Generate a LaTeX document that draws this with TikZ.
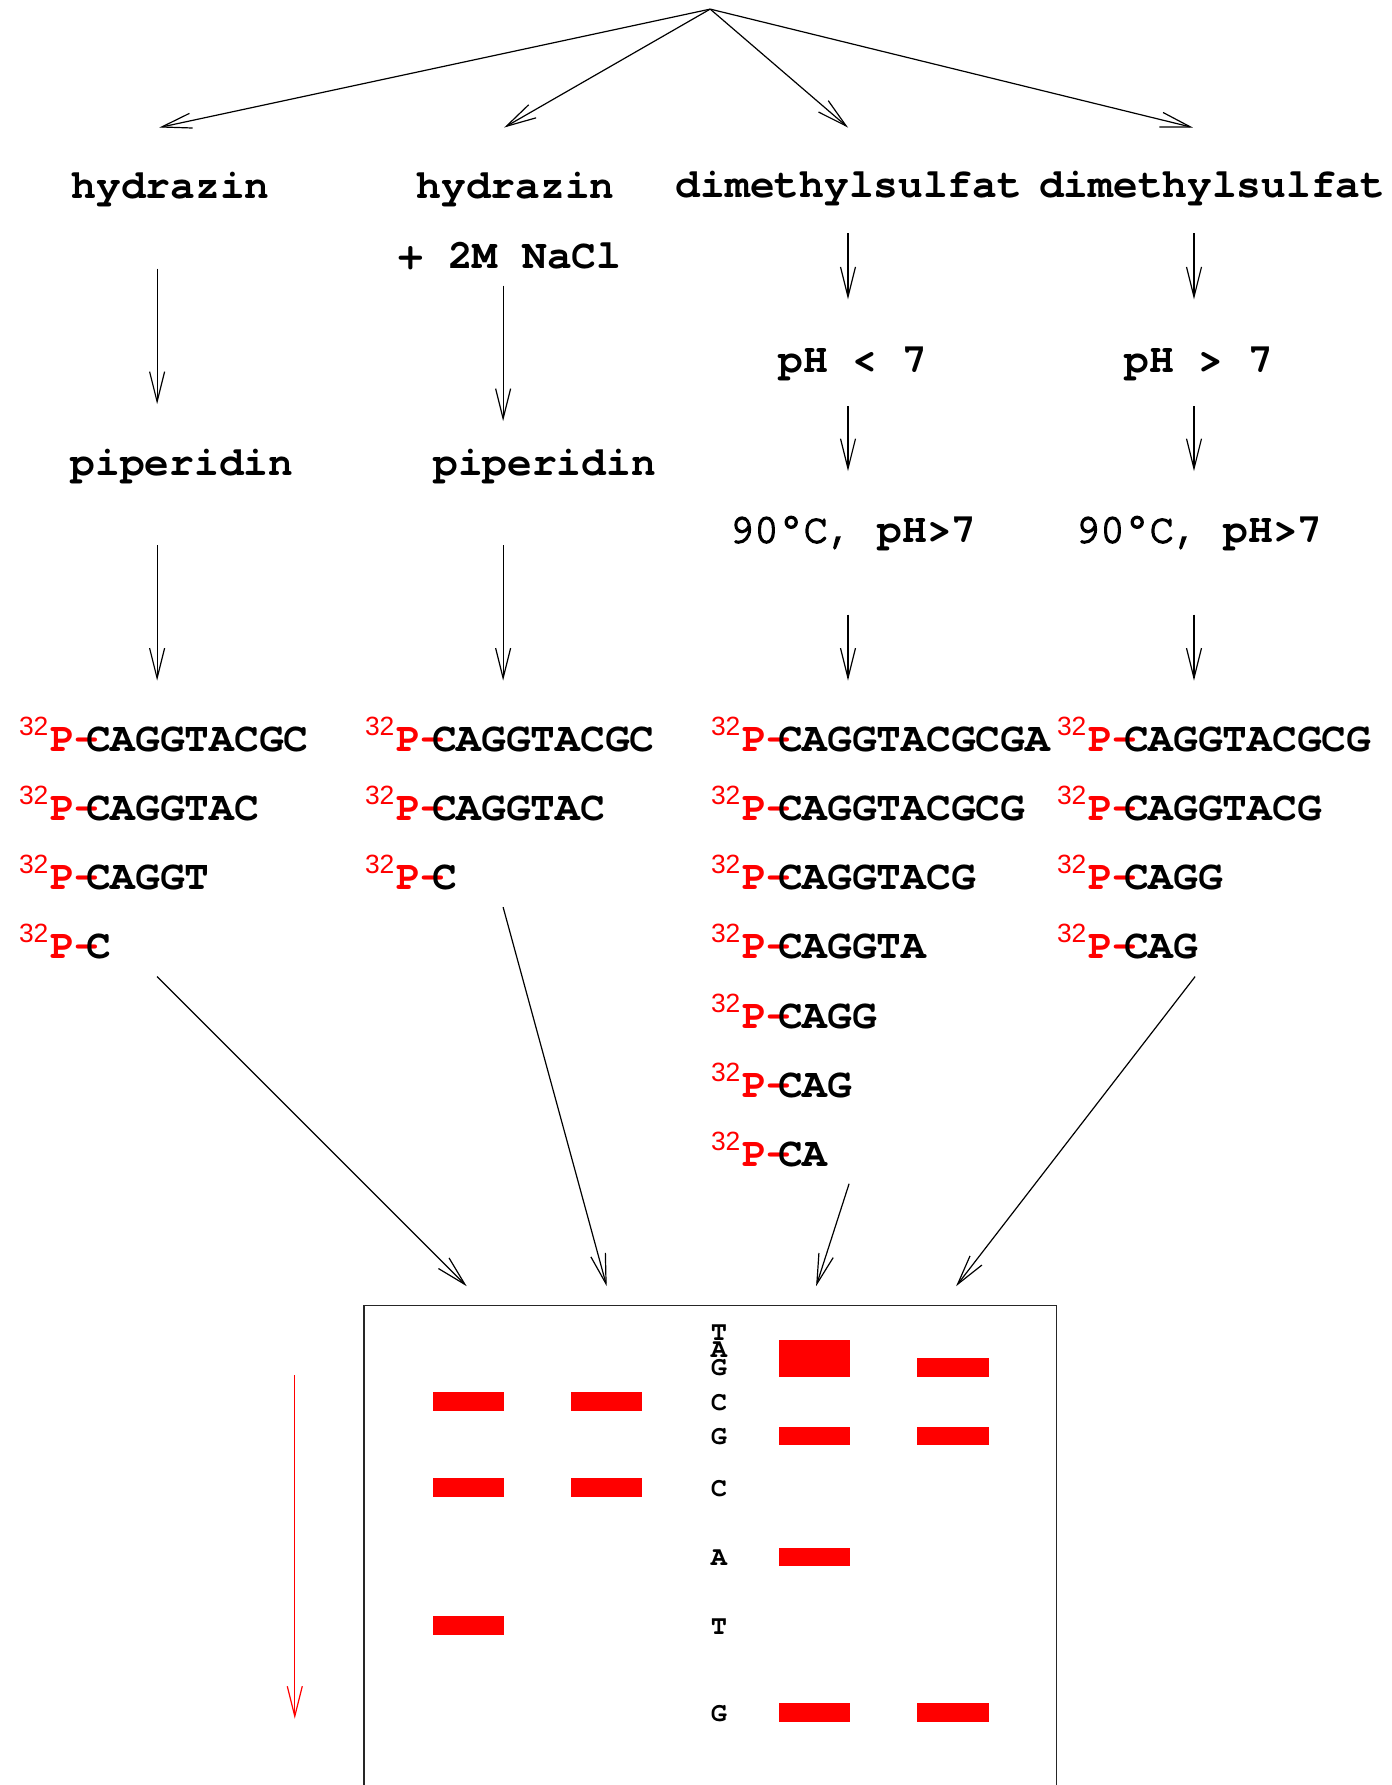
\documentclass[tikz,border=0pt]{standalone}
\usepackage{fontspec}
\newfontfamily\cur{TeX Gyre Cursor}
\newfontfamily\hel{Liberation Sans}
\usetikzlibrary{arrows.meta}
\tikzset{
  big/.style={font=\cur\bfseries\fontsize{20.6}{24}\selectfont, inner sep=0pt, outer sep=0pt},
  lbl/.style={big, anchor=base},
  seqtxt/.style={big, anchor=base west},
  ptxt/.style={big, anchor=base west, text=red},
  suptxt/.style={font=\hel\fontsize{13.2}{15}\selectfont, inner sep=0pt, outer sep=0pt, anchor=base west, text=red},
  gl/.style={font=\cur\bfseries\fontsize{13.5}{15}\selectfont, inner sep=0pt, outer sep=0pt, anchor=base},
  arr/.style={-{Straight Barb[length=15pt,width=7.5pt]}, line width=0.6pt},
  band/.style={fill=red, draw=none},
  gelbox/.style={line width=0.75pt, draw=black!85},
}
\newcommand\seqrow[4]{%
  \node[suptxt] (#1a) at (#2+19,#3-16) {32};
  \node[ptxt] (#1b) at (#2+50,#3) {P-};
  \node[seqtxt] (#1c) at (#2+86,#3) {#4};
}
\newcommand\tempmed{{\mdseries\special{pdf:literal direct 0 g 0 G 2 Tr 0.7 w}90°C,\special{pdf:literal direct 0 Tr 0.4 w} }}
\begin{document}
\begin{tikzpicture}[x=0.5pt,y=-0.5pt]
\useasboundingbox (0,0) rectangle (1392,1785);

% labels
\node[lbl] (h1) at (170.7,198) {hydrazin};
\node[lbl] (h2) at (515.6,198) {hydrazin};
\node[lbl] (nacl) at (510,268) {+ 2M NaCl};
\node[lbl] (d3) at (849,197) {dimethylsulfat};
\node[lbl] (d4) at (1212.2,197) {dimethylsulfat};
\node[lbl] (ph3) at (853,372) {pH < 7};
\node[lbl] (ph4) at (1199,372) {pH > 7};
\node[lbl] (p1) at (182,475.5) {piperidin};
\node[lbl] (p2) at (544.6,475.5) {piperidin};
\node[lbl] (t3) at (853,542.5) {\tempmed pH>7};
\node[lbl] (t4) at (1199,542.5) {\tempmed pH>7};

% sequences
\seqrow{sa1}{0}{751}{CAGGTACGC}
\seqrow{sa2}{0}{820.2}{CAGGTAC}
\seqrow{sa3}{0}{889.5}{CAGGT}
\seqrow{sa4}{0}{958.7}{C}
\seqrow{sb1}{346}{751}{CAGGTACGC}
\seqrow{sb2}{346}{820.2}{CAGGTAC}
\seqrow{sb3}{346}{889.5}{C}
\seqrow{sc1}{692}{751}{CAGGTACGCGA}
\seqrow{sc2}{692}{820.2}{CAGGTACGCG}
\seqrow{sc3}{692}{889.5}{CAGGTACG}
\seqrow{sc4}{692}{958.7}{CAGGTA}
\seqrow{sc5}{692}{1028}{CAGG}
\seqrow{sc6}{692}{1097.2}{CAG}
\seqrow{sc7}{692}{1166.4}{CA}
\seqrow{sd1}{1038}{751}{CAGGTACGCG}
\seqrow{sd2}{1038}{820.2}{CAGGTACG}
\seqrow{sd3}{1038}{889.5}{CAGG}
\seqrow{sd4}{1038}{958.7}{CAG}

% arrow end points
\coordinate (top) at (710.2,9.1);
\coordinate (ta) at (159.3,127.5);
\coordinate (tb) at (504.2,127.5);
\coordinate (tc) at (848,127.5);
\coordinate (td) at (1192.8,127.5);

\coordinate (a1s) at (157.1,268.6);  \coordinate (a1e) at (157.1,404.1);
\coordinate (a2s) at (157.1,545.2);  \coordinate (a2e) at (157.1,680.6);
\coordinate (b1s) at (503.1,285.7);  \coordinate (b1e) at (503.1,421.1);
\coordinate (b2s) at (503.1,545.2);  \coordinate (b2e) at (503.1,680.6);
\coordinate (c1s) at (848,233.3);    \coordinate (c1e) at (848,299.4);
\coordinate (c2s) at (848,406.3);    \coordinate (c2e) at (848,471.2);
\coordinate (c3s) at (848,614.6);    \coordinate (c3e) at (848,680.6);
\coordinate (d1s) at (1194,233.3);   \coordinate (d1e) at (1194,299.4);
\coordinate (d2s) at (1194,406.3);   \coordinate (d2e) at (1194,471.2);
\coordinate (d3s) at (1194,614.6);   \coordinate (d3e) at (1194,680.6);

\coordinate (ga) at (157.1,976.6);   \coordinate (gae) at (466.7,1286.2);
\coordinate (gb) at (503.1,907.1);   \coordinate (gbe) at (606.7,1286.2);
\coordinate (gc) at (849.1,1183.7);  \coordinate (gce) at (816.1,1286.2);
\coordinate (gd) at (1195.1,976.6);  \coordinate (gde) at (956.1,1286.2);

\coordinate (rs) at (294.8,1375);    \coordinate (re) at (294.8,1718.7);

% arrows
\draw[arr] (top) -- (ta);
\draw[arr] (top) -- (tb);
\draw[arr] (top) -- (tc);
\draw[arr] (top) -- (td);
\draw[arr] (a1s) -- (a1e);
\draw[arr] (a2s) -- (a2e);
\draw[arr] (b1s) -- (b1e);
\draw[arr] (b2s) -- (b2e);
\draw[arr] (c1s) -- (c1e);
\draw[arr] (c2s) -- (c2e);
\draw[arr] (c3s) -- (c3e);
\draw[arr] (d1s) -- (d1e);
\draw[arr] (d2s) -- (d2e);
\draw[arr] (d3s) -- (d3e);
\draw[arr] (ga) -- (gae);
\draw[arr] (gb) -- (gbe);
\draw[arr] (gc) -- (gce);
\draw[arr] (gd) -- (gde);
\draw[arr, red] (rs) -- (re);

% gel
\draw[gelbox] (364.2,1790) |- (1056.5,1305.5) -- (1056.5,1790);

\fill[band] (433,1391.8) rectangle (504,1410.5);
\fill[band] (433,1478) rectangle (504,1496.7);
\fill[band] (433,1616) rectangle (504,1634.7);
\fill[band] (571.3,1391.8) rectangle (642.3,1410.5);
\fill[band] (571.3,1478) rectangle (642.3,1496.7);
\fill[band] (778.7,1339.7) rectangle (850.3,1376.5);
\fill[band] (778.7,1426.5) rectangle (850.3,1445.2);
\fill[band] (778.7,1547.5) rectangle (850.3,1566);
\fill[band] (778.7,1703) rectangle (850.3,1721.7);
\fill[band] (917,1357.8) rectangle (988.7,1376.5);
\fill[band] (917,1426.5) rectangle (988.7,1445.2);
\fill[band] (917,1703) rectangle (988.7,1721.7);

\node[gl] (l1) at (719,1340) {T};
\node[gl] (l2) at (719,1357) {A};
\node[gl] (l3) at (719,1375) {G};
\node[gl] (l4) at (719,1410) {C};
\node[gl] (l5) at (719,1444.5) {G};
\node[gl] (l6) at (719,1496) {C};
\node[gl] (l7) at (719,1565) {A};
\node[gl] (l8) at (719,1634) {T};
\node[gl] (l9) at (719,1721) {G};
\end{tikzpicture}
\end{document}
